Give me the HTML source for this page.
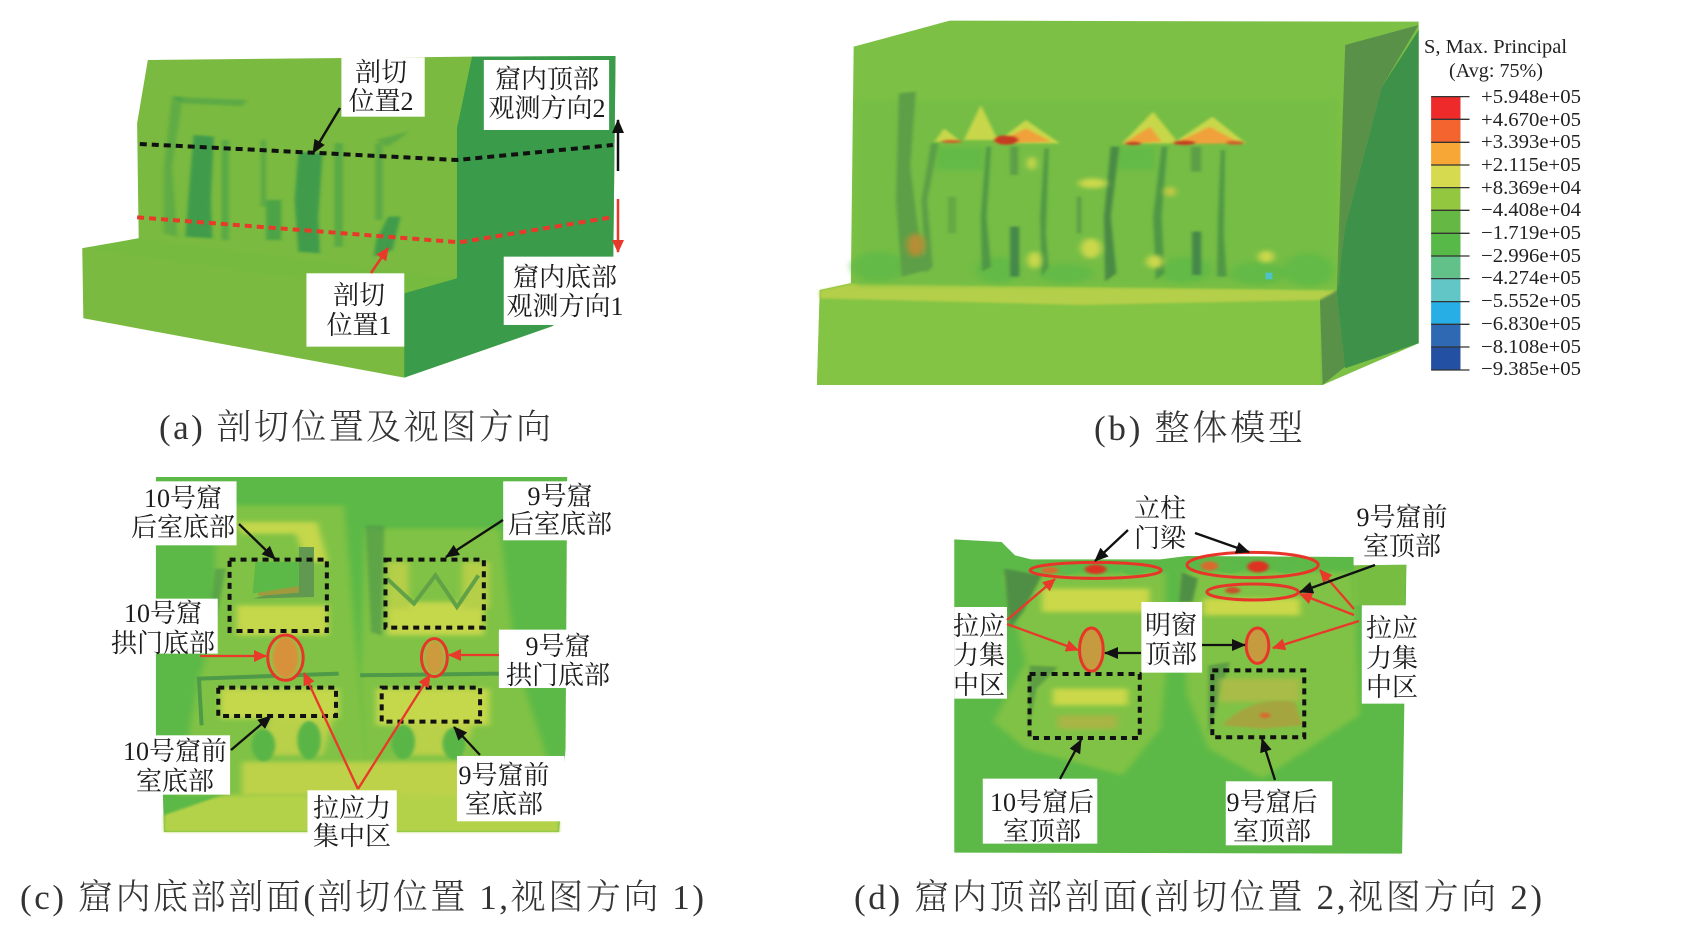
<!DOCTYPE html>
<html><head><meta charset="utf-8"><style>
html,body{margin:0;padding:0;background:#fff;width:1686px;height:925px;overflow:hidden}
svg{display:block}
.l{font-family:"Liberation Serif","Noto Serif CJK SC",serif;font-size:26px;text-anchor:middle;fill:#1c1c1c}
.c{font-family:"Liberation Serif","Noto Serif CJK SC",serif;font-size:35px;fill:#333;font-weight:300}
.v{font-family:"Liberation Serif",serif;font-size:20px;fill:#222}
.s{vector-effect:non-scaling-stroke}
</style></head><body>
<svg width="1686" height="925" viewBox="0 0 1686 925" xmlns="http://www.w3.org/2000/svg">
<defs>
<filter id="b0" x="-30%" y="-30%" width="160%" height="160%"><feGaussianBlur stdDeviation="3"/></filter>
<filter id="b1" x="-50%" y="-50%" width="200%" height="200%"><feGaussianBlur stdDeviation="6"/></filter>
<filter id="b2" x="-50%" y="-50%" width="200%" height="200%"><feGaussianBlur stdDeviation="16"/></filter>
<marker id="ak" markerUnits="userSpaceOnUse" markerWidth="14" markerHeight="12" refX="13" refY="6" orient="auto"><path d="M0 0L14 6L0 12z" fill="#111"/></marker>
<marker id="ar" markerUnits="userSpaceOnUse" markerWidth="13" markerHeight="12" refX="12" refY="6" orient="auto"><path d="M0 0L13 6L0 12z" fill="#e8392a"/></marker>
</defs>

<!-- Panel A -->
<g transform="scale(.5376 .3333)">
<polygon points="275,180 878,170 1145,168 1140,880 1025,980 752,1133 155,955 153,745 258,715 255,370" fill="#7aba40"/>
<polygon points="878,170 1145,168 1140,880 1025,980 752,1133 752,880 850,835 850,385" fill="#3a9b4a"/>
<polygon points="153,745 258,715 850,835 752,880" fill="#76ba40"/>
<g fill="#3f9c4b" filter="url(#b0)">
<polygon points="360,405 398,410 392,600 395,715 345,710 350,600"/>
<polygon points="555,455 600,460 592,650 595,760 555,755 548,600"/>
<polygon points="722,650 745,650 730,750 695,770 700,720"/>
<rect x="495" y="600" width="28" height="120" opacity=".75"/>
<rect x="412" y="420" width="14" height="300" opacity=".55"/>
<rect x="485" y="420" width="10" height="200" opacity=".5"/>
<rect x="622" y="430" width="16" height="310" opacity=".55"/>
<rect x="698" y="430" width="14" height="230" opacity=".5"/>
<polygon points="320,290 340,290 320,500 330,710 305,700 305,500" opacity=".45"/>
<polygon points="320,290 460,300 450,318 340,310" opacity=".5"/>
<polygon points="700,420 760,395 740,420 720,440" opacity=".5"/>
</g>
<polyline class="s" points="260,432 850,480 1140,435" fill="none" stroke="#111" stroke-width="4" stroke-dasharray="7 5"/>
<polyline class="s" points="255,652 855,727 1138,652" fill="none" stroke="#e8392a" stroke-width="4" stroke-dasharray="7 5"/>
<rect x="635" y="172" width="155" height="178" fill="#fff"/>
<rect x="900" y="180" width="233" height="210" fill="#fff"/>
<rect x="570" y="820" width="182" height="220" fill="#fff"/>
<rect x="937" y="770" width="223" height="205" fill="#fff"/>
</g>
<g stroke-width="2.5" fill="none">
<line x1="340" y1="108" x2="313" y2="153" stroke="#111" marker-end="url(#ak)"/>
<line x1="371" y1="273" x2="388" y2="248" stroke="#e8392a" marker-end="url(#ar)"/>
<line x1="618" y1="171" x2="618" y2="120" stroke="#111" marker-end="url(#ak)"/>
<line x1="618" y1="199" x2="618" y2="252" stroke="#e8392a" marker-end="url(#ar)"/>
</g>
<text class="l" x="381" y="81">剖切</text><text class="l" x="381" y="110">位置2</text>
<text class="l" x="547" y="88">窟内顶部</text><text class="l" x="547" y="117">观测方向2</text>
<text class="l" x="359" y="304">剖切</text><text class="l" x="359" y="334">位置1</text>
<text class="l" x="565" y="286">窟内底部</text><text class="l" x="565" y="315">观测方向1</text>
<text class="c" x="159" y="439" textLength="392" lengthAdjust="spacing">(a) 剖切位置及视图方向</text>

<!-- Panel B -->
<g transform="translate(800 0) scale(.565 .3333)">
<polygon points="95,140 265,62 1095,65 1095,1030 925,1155 30,1155 35,870 90,850" fill="#7cc045"/>
<polygon points="965,135 1095,75 1030,260 965,680 950,880 965,1100 925,1155 920,885 950,870" fill="#5a9148"/>
<polygon points="1095,90 1095,1030 965,1105 950,880 965,680 1030,260" fill="#3d9149"/>
<polygon points="35,870 90,850 950,870 920,890 920,1155 30,1155" fill="#84c444"/>
<polygon points="35,872 90,852 950,872 920,900 500,915 35,895" fill="#b4cf4a" filter="url(#b0)"/>
<rect x="100" y="300" width="850" height="560" fill="#6fbc45" opacity=".5" filter="url(#b1)"/>
<g fill="#5cb947" filter="url(#b1)" opacity=".65">
<ellipse cx="140" cy="800" rx="50" ry="45"/><ellipse cx="350" cy="810" rx="40" ry="40"/>
<ellipse cx="470" cy="820" rx="50" ry="30"/><ellipse cx="680" cy="810" rx="50" ry="40"/>
<ellipse cx="810" cy="820" rx="50" ry="35"/><ellipse cx="900" cy="810" rx="45" ry="50"/>
<rect x="240" y="440" width="85" height="70"/><rect x="560" y="440" width="70" height="70"/>
</g>
<g fill="#5b9f46" filter="url(#b0)">
<polygon points="175,280 205,275 195,500 210,700 225,810 180,830 170,600"/>
<polygon points="232,430 245,430 225,600 235,800 222,820 215,600"/>
<polygon points="330,440 338,440 330,650 338,800 322,815 320,650" fill="#4f9845"/>
<polygon points="433,445 440,445 435,700 440,800 428,830 425,650" fill="#4f9845"/>
<polygon points="550,440 565,440 550,650 560,820 540,845 538,650" fill="#4a8a44"/>
<polygon points="640,440 650,440 640,650 645,820 630,840 625,650" fill="#4f9845"/>
<polygon points="745,450 752,450 750,700 755,830 738,830 740,650" fill="#4f9845"/>
<rect x="372" y="440" width="14" height="85"/>
<rect x="372" y="680" width="16" height="150" fill="#44884a"/>
<rect x="692" y="440" width="18" height="75"/>
<rect x="694" y="695" width="16" height="130" fill="#44884a"/>
<rect x="490" y="590" width="8" height="110"/>
<rect x="262" y="590" width="14" height="110" opacity=".7"/>
</g>
<g filter="url(#b0)">
<polygon points="290,420 320,315 350,420" fill="#c8d74a"/>
<polygon points="238,425 255,385 285,425" fill="#c8d74a"/>
<polygon points="345,430 400,360 460,430" fill="#c8d74a"/>
<polygon points="570,430 625,335 670,430" fill="#c8d74a"/>
<polygon points="660,430 730,350 790,430" fill="#c8d74a"/>
<polygon points="345,430 400,385 445,425" fill="#f0a13a"/>
<polygon points="570,432 620,380 640,425" fill="#f0a13a"/>
<polygon points="660,432 725,380 780,430" fill="#f0a13a"/>
<ellipse cx="365" cy="420" rx="22" ry="14" fill="#c73b22"/>
<ellipse cx="680" cy="428" rx="20" ry="7" fill="#c73b22"/>
<ellipse cx="590" cy="430" rx="14" ry="5" fill="#c73b22"/>
<ellipse cx="770" cy="428" rx="16" ry="6" fill="#d0602a"/>
<ellipse cx="268" cy="424" rx="18" ry="5" fill="#d0602a"/>
</g>
<g filter="url(#b1)">
<ellipse cx="518" cy="550" rx="25" ry="15" fill="#ccd84c"/>
<ellipse cx="205" cy="735" rx="16" ry="35" fill="#b68e35"/>
<ellipse cx="515" cy="745" rx="18" ry="30" fill="#ccd84c"/>
<ellipse cx="655" cy="575" rx="10" ry="15" fill="#c8c945"/>
<ellipse cx="628" cy="785" rx="15" ry="20" fill="#ccd84c"/>
<ellipse cx="415" cy="780" rx="12" ry="25" fill="#ccd84c"/>
<ellipse cx="825" cy="770" rx="14" ry="18" fill="#ccd84c"/>
<ellipse cx="410" cy="490" rx="8" ry="20" fill="#ccd84c"/>
</g>
<rect x="824" y="818" width="12" height="20" fill="#4cc3c9"/>
<!-- Legend -->
<rect x="1117" y="290" width="52" height="68.3" fill="#ee2a2a"/>
<rect x="1117" y="358.3" width="52" height="68.3" fill="#f4642f"/>
<rect x="1117" y="426.6" width="52" height="68.3" fill="#f6a735"/>
<rect x="1117" y="494.9" width="52" height="68.3" fill="#d6da4f"/>
<rect x="1117" y="563.2" width="52" height="68.3" fill="#92c73f"/>
<rect x="1117" y="631.5" width="52" height="68.3" fill="#66b844"/>
<rect x="1117" y="699.8" width="52" height="68.3" fill="#57b947"/>
<rect x="1117" y="768.1" width="52" height="68.3" fill="#62c089"/>
<rect x="1117" y="836.4" width="52" height="68.3" fill="#63c6c6"/>
<rect x="1117" y="904.7" width="52" height="68.3" fill="#27aee5"/>
<rect x="1117" y="973" width="52" height="68.3" fill="#2f69b4"/>
<rect x="1117" y="1041.3" width="52" height="68.7" fill="#2450a4"/>
<path class="s" stroke="#333" stroke-width="1.3" fill="none" d="M1117 290H1185M1117 358H1185M1117 427H1185M1117 495H1185M1117 563H1185M1117 631H1185M1117 700H1185M1117 768H1185M1117 836H1185M1117 905H1185M1117 973H1185M1117 1041H1185M1117 1110H1185"/>
</g>
<text class="v" x="1424" y="53" textLength="143" lengthAdjust="spacingAndGlyphs">S, Max. Principal</text>
<text class="v" x="1449" y="77" textLength="94" lengthAdjust="spacingAndGlyphs">(Avg: 75%)</text>
<g class="v">
<text x="1481" y="103" textLength="100" lengthAdjust="spacingAndGlyphs">+5.948e+05</text>
<text x="1481" y="126" textLength="100" lengthAdjust="spacingAndGlyphs">+4.670e+05</text>
<text x="1481" y="148" textLength="100" lengthAdjust="spacingAndGlyphs">+3.393e+05</text>
<text x="1481" y="171" textLength="100" lengthAdjust="spacingAndGlyphs">+2.115e+05</text>
<text x="1481" y="194" textLength="100" lengthAdjust="spacingAndGlyphs">+8.369e+04</text>
<text x="1481" y="216" textLength="100" lengthAdjust="spacingAndGlyphs">−4.408e+04</text>
<text x="1481" y="239" textLength="100" lengthAdjust="spacingAndGlyphs">−1.719e+05</text>
<text x="1481" y="262" textLength="100" lengthAdjust="spacingAndGlyphs">−2.996e+05</text>
<text x="1481" y="284" textLength="100" lengthAdjust="spacingAndGlyphs">−4.274e+05</text>
<text x="1481" y="307" textLength="100" lengthAdjust="spacingAndGlyphs">−5.552e+05</text>
<text x="1481" y="330" textLength="100" lengthAdjust="spacingAndGlyphs">−6.830e+05</text>
<text x="1481" y="353" textLength="100" lengthAdjust="spacingAndGlyphs">−8.108e+05</text>
<text x="1481" y="375" textLength="100" lengthAdjust="spacingAndGlyphs">−9.385e+05</text>
</g>
<text class="c" x="1094" y="440" textLength="209" lengthAdjust="spacing">(b) 整体模型</text>

<!-- Panel C -->
<g transform="translate(0 462) scale(.5376 .3333)">
<polygon points="290,45 1055,45 1052,860 1040,1110 305,1110 303,1000 290,900" fill="#5cb947"/>
<polygon points="305,1060 430,990 500,900 860,900 1040,1000 1040,1110 305,1110" fill="#b4d24a" filter="url(#b0)"/>
<polygon points="400,130 640,130 660,500 690,1000 330,1000 370,650 400,500" fill="#80c245" filter="url(#b1)"/>
<polygon points="680,200 930,200 960,600 1030,950 680,1000 670,640" fill="#80c245" filter="url(#b1)"/>
<g filter="url(#b1)">
<polygon points="440,180 590,180 610,300 570,300 550,215 450,215" fill="#c5d74c"/>
<rect x="440" y="430" width="170" height="90" fill="#c5d74c"/>
<rect x="720" y="420" width="180" height="100" fill="#c5d74c"/>
<rect x="410" y="680" width="220" height="90" fill="#c5d74c"/>
<rect x="700" y="680" width="210" height="110" fill="#c5d74c"/>
<rect x="450" y="900" width="420" height="100" fill="#bdd24a"/>
<rect x="720" y="300" width="40" height="140" fill="#b5cf4a"/>
<rect x="860" y="300" width="50" height="140" fill="#b5cf4a"/>
<polygon points="500,770 620,770 600,880 480,880" fill="#b9d04a"/>
<polygon points="740,780 880,790 860,880 740,880" fill="#b9d04a"/>
</g>
<polygon points="470,410 556,372 556,255 584,255 584,405" fill="#60994f"/>
<polygon points="480,385 556,372 556,392 480,402" fill="#a09a3f"/>
<polygon points="475,300 556,300 556,372 470,395" fill="#5cb947"/>
<polyline class="s" points="720,350 770,425 810,340 850,435 890,340" fill="none" stroke="#62a247" stroke-width="4"/>
<polyline class="s" points="375,790 370,650 630,635" fill="none" stroke="#4f9a48" stroke-width="4"/>
<polyline class="s" points="670,640 930,635" fill="none" stroke="#4f9a48" stroke-width="4"/>
<polygon points="680,190 715,190 710,520 690,510" fill="#4f9a48" opacity=".7" filter="url(#b0)"/>
<polygon points="400,320 420,320 400,490 390,470" fill="#4f9a48" opacity=".7" filter="url(#b0)"/>
<g fill="#5ab547" filter="url(#b0)"><ellipse cx="490" cy="850" rx="22" ry="48"/><ellipse cx="575" cy="835" rx="22" ry="58"/><ellipse cx="750" cy="840" rx="22" ry="52"/><ellipse cx="845" cy="845" rx="22" ry="48"/></g>
<ellipse cx="531" cy="587" rx="33" ry="68" fill="#8ec546"/>
<ellipse cx="808" cy="587" rx="24" ry="57" fill="#8ec546"/>
<ellipse cx="531" cy="587" rx="24" ry="62" fill="#d8913a" filter="url(#b0)"/>
<ellipse cx="808" cy="587" rx="18" ry="50" fill="#cd9a3c" filter="url(#b0)"/>
<ellipse class="s" cx="531" cy="587" rx="33" ry="68" fill="none" stroke="#e8352a" stroke-width="3"/>
<ellipse class="s" cx="808" cy="587" rx="24" ry="57" fill="none" stroke="#e8352a" stroke-width="3"/>
<g fill="none" stroke="#111" stroke-width="4">
<rect class="s" x="427" y="293" width="181" height="214" stroke-dasharray="6 5"/>
<rect class="s" x="717" y="293" width="183" height="204" stroke-dasharray="6 5"/>
<rect class="s" x="406" y="677" width="219" height="85" stroke-dasharray="6 5"/>
<rect class="s" x="710" y="677" width="183" height="102" stroke-dasharray="6 5"/>
</g>
<rect x="245" y="58" width="195" height="192" fill="#fff"/>
<rect x="936" y="58" width="204" height="177" fill="#fff"/>
<rect x="205" y="410" width="200" height="165" fill="#fff"/>
<rect x="928" y="503" width="207" height="175" fill="#fff"/>
<rect x="235" y="820" width="193" height="178" fill="#fff"/>
<rect x="850" y="882" width="200" height="196" fill="#fff"/>
<rect x="572" y="985" width="166" height="180" fill="#fff"/>
</g>
<g stroke-width="2.3" fill="none">
<line x1="200" y1="656" x2="266" y2="656" stroke="#e8392a" marker-end="url(#ar)"/>
<line x1="499" y1="655" x2="449" y2="655" stroke="#e8392a" marker-end="url(#ar)"/>
<line x1="358" y1="789" x2="304" y2="673" stroke="#e8392a" marker-end="url(#ar)"/>
<line x1="358" y1="789" x2="430" y2="675" stroke="#e8392a" marker-end="url(#ar)"/>
<line x1="239" y1="524" x2="275" y2="559" stroke="#111" marker-end="url(#ak)"/>
<line x1="503" y1="520" x2="446" y2="557" stroke="#111" marker-end="url(#ak)"/>
<line x1="231" y1="750" x2="271" y2="716" stroke="#111" marker-end="url(#ak)"/>
<line x1="480" y1="755" x2="454" y2="727" stroke="#111" marker-end="url(#ak)"/>
</g>
<text class="l" x="183" y="507">10号窟</text><text class="l" x="183" y="536">后室底部</text>
<text class="l" x="560" y="505">9号窟</text><text class="l" x="560" y="533">后室底部</text>
<text class="l" x="163" y="622">10号窟</text><text class="l" x="163" y="652">拱门底部</text>
<text class="l" x="558" y="655">9号窟</text><text class="l" x="558" y="684">拱门底部</text>
<text class="l" x="175" y="760">10号窟前</text><text class="l" x="175" y="790">室底部</text>
<text class="l" x="504" y="784">9号窟前</text><text class="l" x="504" y="813">室底部</text>
<text class="l" x="352" y="817">拉应力</text><text class="l" x="352" y="845">集中区</text>
<text class="c" x="20" y="909" textLength="684" lengthAdjust="spacing">(c) 窟内底部剖面(剖切位置 1,视图方向 1)</text>

<!-- Panel D -->
<g transform="translate(843 462) scale(.5376 .3333)">
<polygon points="207,232 295,240 320,280 350,292 590,292 640,282 950,285 950,310 1048,308 1040,1175 207,1172" fill="#5cb947"/>
<polygon points="950,310 1048,308 1045,430 950,430" fill="#76bd42"/>
<polygon points="300,340 600,330 600,640 590,800 520,940 340,860 280,780 340,600" fill="#80c245" filter="url(#b1)"/>
<polygon points="630,330 950,330 960,760 780,950 680,860 640,700" fill="#80c245" filter="url(#b1)"/>
<polygon points="300,320 370,340 335,450 310,500" fill="#4f8f45" filter="url(#b0)"/>
<polygon points="630,330 660,350 650,420 625,420" fill="#4f8f45" filter="url(#b0)"/>
<polygon points="347,610 400,615 360,680 345,800" fill="#4f8f45" opacity=".7" filter="url(#b0)"/>
<polygon points="680,610 720,600 700,700 680,820" fill="#4f8f45" opacity=".7" filter="url(#b0)"/>
<g filter="url(#b1)">
<rect x="370" y="380" width="200" height="70" fill="#cbd84a"/>
<rect x="670" y="410" width="180" height="50" fill="#cbd84a"/>
<rect x="390" y="680" width="140" height="50" fill="#cbd84a"/>
<rect x="400" y="760" width="110" height="40" fill="#a9b544"/>
<rect x="700" y="650" width="150" height="70" fill="#a8bc46"/>
</g>
<path d="M705,790 Q760,700 840,720 L855,790 L780,800z" fill="#a5a53f" filter="url(#b0)"/>
<g fill="#5db949"><ellipse cx="540" cy="322" rx="22" ry="16"/><ellipse cx="415" cy="322" rx="20" ry="16"/><ellipse cx="720" cy="315" rx="24" ry="18"/><ellipse cx="825" cy="315" rx="24" ry="18"/></g>
<g filter="url(#b0)"><ellipse cx="470" cy="322" rx="20" ry="14" fill="#dd3322"/><ellipse cx="385" cy="325" rx="16" ry="10" fill="#d96b2e"/><ellipse cx="772" cy="314" rx="20" ry="17" fill="#dd3322"/><ellipse cx="682" cy="312" rx="16" ry="14" fill="#d96b2e"/><ellipse cx="725" cy="385" rx="14" ry="10" fill="#c9502a"/><ellipse cx="785" cy="760" rx="10" ry="8" fill="#d96b2e"/></g>
<ellipse cx="462" cy="563" rx="22" ry="65" fill="#c69a3e"/>
<ellipse cx="771" cy="551" rx="21" ry="53" fill="#c69a3e"/>
<g fill="none" stroke="#e8352a" stroke-width="3">
<ellipse class="s" cx="470" cy="325" rx="122" ry="24"/>
<ellipse class="s" cx="762" cy="309" rx="122" ry="38"/>
<ellipse class="s" cx="762" cy="390" rx="85" ry="24"/>
<ellipse class="s" cx="462" cy="563" rx="22" ry="65"/>
<ellipse class="s" cx="771" cy="551" rx="21" ry="53"/>
</g>
<g fill="none" stroke="#111" stroke-width="4">
<rect class="s" x="347" y="636" width="205" height="192" stroke-dasharray="6 5"/>
<rect class="s" x="687" y="625" width="171" height="201" stroke-dasharray="6 5"/>
</g>
<rect x="207" y="435" width="98" height="275" fill="#fff"/>
<rect x="965" y="430" width="110" height="295" fill="#fff"/>
<rect x="555" y="420" width="113" height="212" fill="#fff"/>
<rect x="260" y="950" width="213" height="195" fill="#fff"/>
<rect x="712" y="958" width="198" height="192" fill="#fff"/>
<rect x="950" y="130" width="175" height="178" fill="#fff"/>
<rect x="540" y="100" width="100" height="160" fill="#fff"/>
</g>
<g stroke-width="2.3" fill="none">
<line x1="1007" y1="620" x2="1055" y2="579" stroke="#e8392a" marker-end="url(#ar)"/>
<line x1="1007" y1="624" x2="1078" y2="650" stroke="#e8392a" marker-end="url(#ar)"/>
<line x1="1354" y1="609" x2="1320" y2="570" stroke="#e8392a" marker-end="url(#ar)"/>
<line x1="1354" y1="615" x2="1300" y2="594" stroke="#e8392a" marker-end="url(#ar)"/>
<line x1="1359" y1="621" x2="1273" y2="648" stroke="#e8392a" marker-end="url(#ar)"/>
<line x1="1128" y1="530" x2="1095" y2="561" stroke="#111" marker-end="url(#ak)"/>
<line x1="1195" y1="533" x2="1249" y2="552" stroke="#111" marker-end="url(#ak)"/>
<line x1="1375" y1="565" x2="1300" y2="592" stroke="#111" marker-end="url(#ak)"/>
<line x1="1141" y1="653" x2="1105" y2="653" stroke="#111" marker-end="url(#ak)"/>
<line x1="1202" y1="645" x2="1245" y2="645" stroke="#111" marker-end="url(#ak)"/>
<line x1="1060" y1="779" x2="1081" y2="740" stroke="#111" marker-end="url(#ak)"/>
<line x1="1275" y1="780" x2="1262" y2="739" stroke="#111" marker-end="url(#ak)"/>
</g>
<text class="l" x="1160" y="517">立柱</text><text class="l" x="1160" y="547">门梁</text>
<text class="l" x="1402" y="526">9号窟前</text><text class="l" x="1402" y="555">室顶部</text>
<text class="l" x="979" y="635">拉应</text><text class="l" x="979" y="664">力集</text><text class="l" x="979" y="694">中区</text>
<text class="l" x="1392" y="637">拉应</text><text class="l" x="1392" y="667">力集</text><text class="l" x="1392" y="696">中区</text>
<text class="l" x="1171" y="634">明窗</text><text class="l" x="1171" y="663">顶部</text>
<text class="l" x="1042" y="811">10号窟后</text><text class="l" x="1042" y="840">室顶部</text>
<text class="l" x="1272" y="811">9号窟后</text><text class="l" x="1272" y="840">室顶部</text>
<text class="c" x="854" y="909" textLength="688" lengthAdjust="spacing">(d) 窟内顶部剖面(剖切位置 2,视图方向 2)</text>
</svg>
</body></html>
